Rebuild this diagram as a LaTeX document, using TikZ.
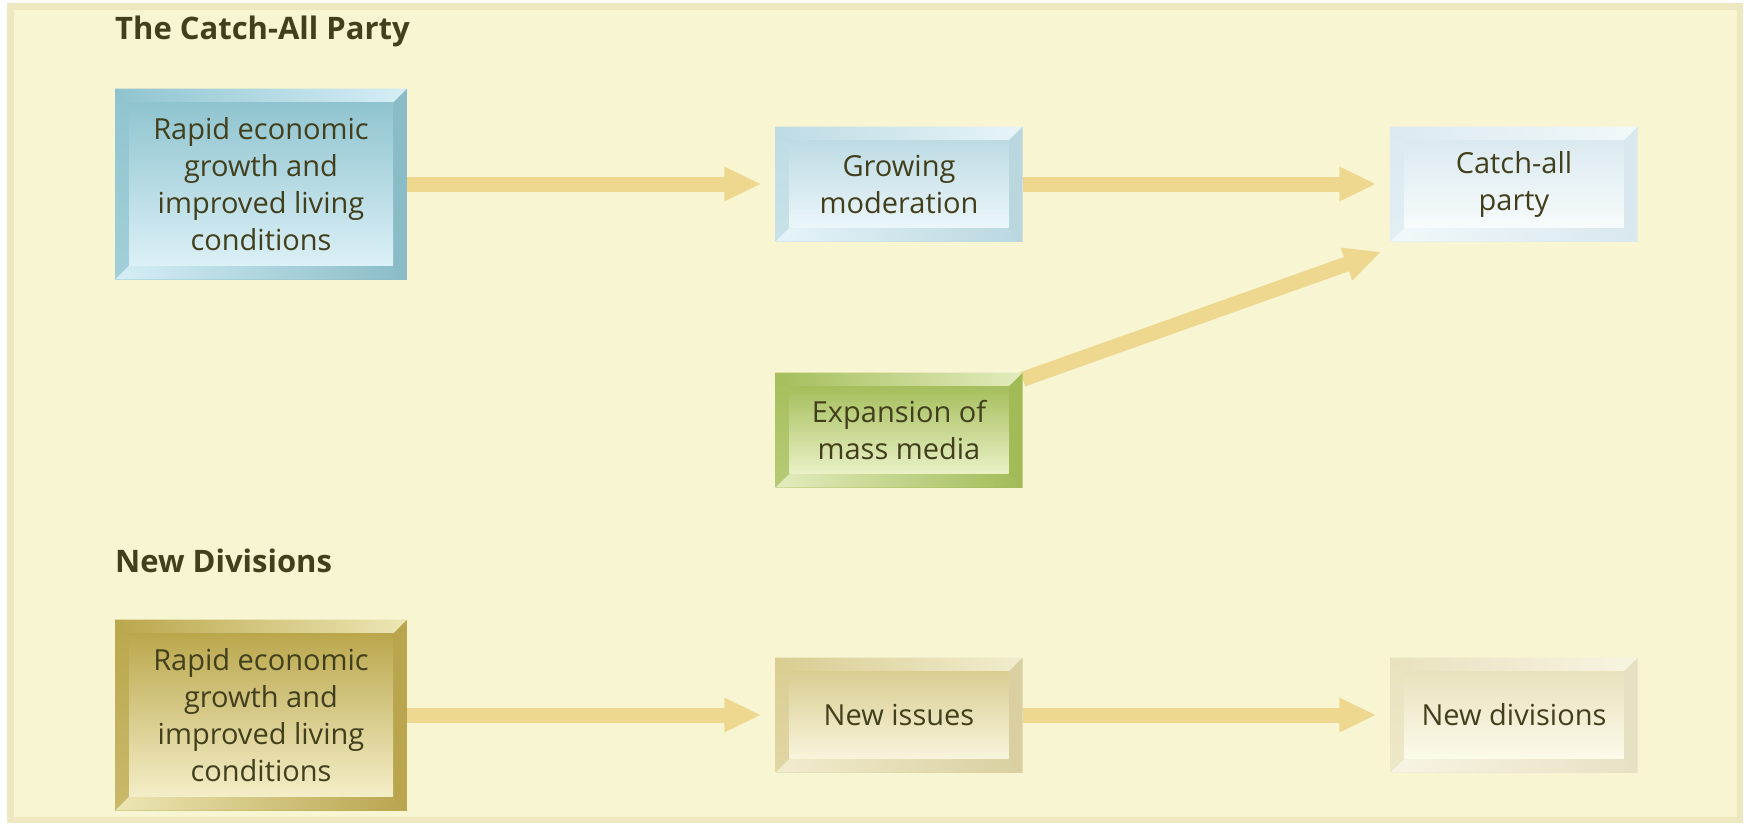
\documentclass[tikz,border=0pt]{standalone}
\usepackage{fontspec}
\setmainfont{Open Sans}
\usetikzlibrary{arrows.meta,calc}
\definecolor{txt}{HTML}{423F1C}
\definecolor{panel}{HTML}{F8F5D2}
\definecolor{panelrim}{HTML}{EEE8C2}
\definecolor{flowc}{HTML}{EED890}
% blue big
\definecolor{bA}{HTML}{8FC4CF}\definecolor{bB}{HTML}{DCF0F7}\definecolor{bD}{HTML}{89BCC7}\definecolor{bL}{HTML}{D6EEF6}
% light blue
\definecolor{gA}{HTML}{BEDBE4}\definecolor{gB}{HTML}{EBF6FA}\definecolor{gD}{HTML}{BAD7E0}\definecolor{gL}{HTML}{E6F4F8}
% very light blue
\definecolor{cA}{HTML}{DBEAF0}\definecolor{cB}{HTML}{F7FBFC}\definecolor{cD}{HTML}{D8E8EE}\definecolor{cL}{HTML}{F1F8FA}
% green
\definecolor{mA}{HTML}{A6BE5C}\definecolor{mB}{HTML}{E9F1C6}\definecolor{mD}{HTML}{A2BB57}\definecolor{mL}{HTML}{E2ECBE}
% gold big
\definecolor{oA}{HTML}{BAA74C}\definecolor{oB}{HTML}{F4EEC8}\definecolor{oD}{HTML}{B8A54E}\definecolor{oL}{HTML}{EDE6B4}
% new issues
\definecolor{nA}{HTML}{D9CD92}\definecolor{nB}{HTML}{F8F4DC}\definecolor{nD}{HTML}{D9CFA0}\definecolor{nL}{HTML}{F1ECCE}
% new divisions
\definecolor{dA}{HTML}{E8E2BE}\definecolor{dB}{HTML}{FCFAEA}\definecolor{dD}{HTML}{E7E1C4}\definecolor{dL}{HTML}{F7F4E2}
\pgfdeclarelayer{bg}
\pgfdeclarelayer{arr}
\pgfsetlayers{bg,arr,main}
\tikzset{
  bev/.style n args={4}{
    inner sep=0pt, align=center, text=txt,
    font=\fontsize{29}{37}\selectfont,
    path picture={
      \coordinate (pNW) at (path picture bounding box.north west);
      \coordinate (pNE) at (path picture bounding box.north east);
      \coordinate (pSW) at (path picture bounding box.south west);
      \coordinate (pSE) at (path picture bounding box.south east);
      \coordinate (iNW) at ([xshift=14pt,yshift=-14pt]path picture bounding box.north west);
      \coordinate (iNE) at ([xshift=-14pt,yshift=-14pt]path picture bounding box.north east);
      \coordinate (iSW) at ([xshift=14pt,yshift=14pt]path picture bounding box.south west);
      \coordinate (iSE) at ([xshift=-14pt,yshift=14pt]path picture bounding box.south east);
      \fill[#3] (pSW) rectangle (pNE);
      \shade[left color=#1, right color=#4] (pNW) -- (pNE) -- (iNE) -- (iNW) -- cycle;
      \shade[top color=#1, bottom color=#1!75!#2] (pNW) -- (iNW) -- (iSW) -- (pSW) -- cycle;
      \shade[left color=#4, right color=#3] (pSW) -- (iSW) -- (iSE) -- (pSE) -- cycle;
      \shade[top color=#1, bottom color=#2] (iNW) rectangle (iSE);
    }},
  bigbox/.style={minimum width=292pt, minimum height=191pt},
  smallbox/.style={minimum width=247pt, minimum height=115pt},
  flow/.style={line width=15pt, draw=flowc, -{Triangle[length=37pt,width=32pt]}},
  heading/.style={anchor=base west, text=txt, font=\fontsize{31}{36}\selectfont\bfseries, inner sep=0pt}
}
\begin{document}
\begin{tikzpicture}[x=1pt,y=-1pt]
\useasboundingbox (0,0) rectangle (1746,825);
\begin{pgfonlayer}{bg}
  \fill[white] (0,0) rectangle (1746,825);
  \fill[panelrim] (7,3) rectangle (1743,823);
  \fill[panel] (14,10) rectangle (1737,817);
\end{pgfonlayer}

\node[heading] (t1) at (115,39) {The Catch-All Party};
\node[heading] (t2) at (115,572) {New Divisions};

\node[bev={bA}{bB}{bD}{bL}, bigbox] (b1) at (261,184) {Rapid economic\\growth and\\improved living\\conditions};
\node[bev={gA}{gB}{gD}{gL}, smallbox] (gm) at (899,184) {Growing\\moderation};
\node[bev={cA}{cB}{cD}{cL}, smallbox] (ca) at (1514,184) {Catch-all\\party};
\node[bev={mA}{mB}{mD}{mL}, smallbox] (mm) at (899,430) {Expansion of\\mass media};

\node[bev={oA}{oB}{oD}{oL}, bigbox] (b2) at (261,715) {Rapid economic\\growth and\\improved living\\conditions};
\node[bev={nA}{nB}{nD}{nL}, smallbox] (ni) at (899,715) {New issues};
\node[bev={dA}{dB}{dD}{dL}, smallbox] (nd) at (1514,715) {New divisions};

\begin{pgfonlayer}{arr}
  \draw[flow, shorten >=14pt] (b1.east) -- (gm.west);
  \draw[flow, shorten >=14pt] (gm.east) -- (ca.west);
  \draw[flow] ($(mm.north east)+(0,7)$) -- ($(ca.south west)+(-9,10)$);
  \draw[flow, shorten >=14pt] (b2.east) -- (ni.west);
  \draw[flow, shorten >=14pt] (ni.east) -- (nd.west);
\end{pgfonlayer}
\end{tikzpicture}
\end{document}
